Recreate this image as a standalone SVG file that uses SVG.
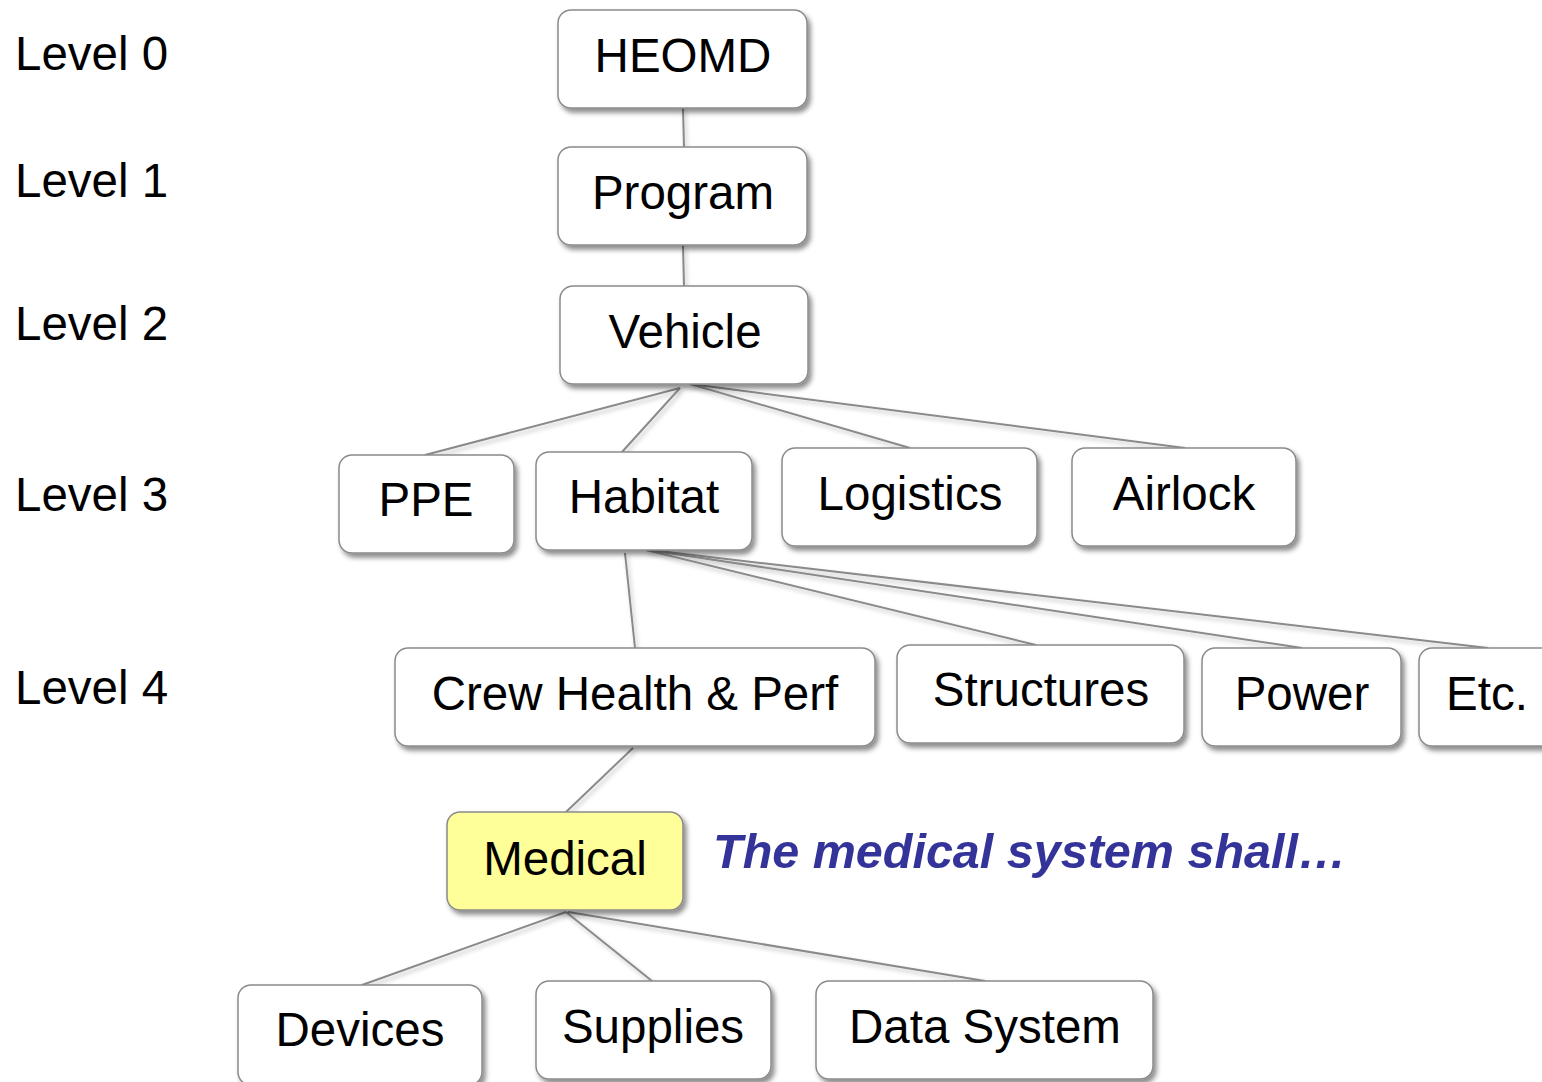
<svg xmlns="http://www.w3.org/2000/svg" width="1542" height="1082" viewBox="0 0 1542 1082">
<defs>
<filter id="sh" x="-10%" y="-20%" width="130%" height="150%">
<feDropShadow dx="3" dy="4" stdDeviation="2.5" flood-color="#000" flood-opacity="0.45"/>
</filter>
<filter id="lsh" x="-10%" y="-20%" width="130%" height="150%">
<feDropShadow dx="2" dy="3" stdDeviation="2" flood-color="#000" flood-opacity="0.25"/>
</filter>
</defs>
<style>
.box{fill:#fff;stroke:#8a8a8a;stroke-width:1.5;filter:url(#sh)}
.hl{fill:#ffff99}
.t{font-family:"Liberation Sans",Arial,sans-serif;font-size:47.5px;fill:#000;text-anchor:middle}
.lv{font-family:"Liberation Sans",Arial,sans-serif;font-size:47.5px;fill:#000}
.note{font-family:"Liberation Sans",Arial,sans-serif;font-size:48.5px;font-weight:bold;font-style:italic;fill:#333399}
.c{stroke:#8a8a8a;stroke-width:2;fill:none}
</style>
<rect width="1542" height="1082" fill="#fff"/>
<g id="levels">
<text class="lv" x="15" y="70">Level 0</text>
<text class="lv" x="15" y="197">Level 1</text>
<text class="lv" x="15" y="340">Level 2</text>
<text class="lv" x="15" y="511">Level 3</text>
<text class="lv" x="15" y="704">Level 4</text>
</g>
<g id="connectors" filter="url(#lsh)">
<line class="c" x1="683" y1="108" x2="684" y2="147"/>
<line class="c" x1="683" y1="245" x2="684" y2="286"/>
<line class="c" x1="680" y1="388" x2="425" y2="455"/>
<line class="c" x1="680" y1="388" x2="622" y2="452"/>
<line class="c" x1="690" y1="384" x2="910" y2="448"/>
<line class="c" x1="690" y1="384" x2="1185" y2="448"/>
<line class="c" x1="625" y1="553" x2="635" y2="648"/>
<line class="c" x1="646" y1="550" x2="1036" y2="645"/>
<line class="c" x1="648" y1="550" x2="1302" y2="648"/>
<line class="c" x1="650" y1="550" x2="1488" y2="648"/>
<line class="c" x1="633" y1="748" x2="566" y2="812"/>
<line class="c" x1="566" y1="912" x2="362" y2="985"/>
<line class="c" x1="566" y1="912" x2="652" y2="981"/>
<line class="c" x1="568" y1="912" x2="985" y2="981"/>
</g>
<g id="n-heomd"><rect class="box" x="558" y="10" width="249" height="98" rx="13"/><text class="t" x="683" y="72">HEOMD</text></g>
<g id="n-program"><rect class="box" x="558" y="147" width="249" height="98" rx="13"/><text class="t" x="683" y="209">Program</text></g>
<g id="n-vehicle"><rect class="box" x="560" y="286" width="248" height="98" rx="13"/><text class="t" x="685" y="348">Vehicle</text></g>
<g id="n-ppe"><rect class="box" x="339" y="455" width="175" height="98" rx="13"/><text class="t" x="426" y="516">PPE</text></g>
<g id="n-habitat"><rect class="box" x="536" y="452" width="216" height="98" rx="13"/><text class="t" x="644" y="513">Habitat</text></g>
<g id="n-logistics"><rect class="box" x="782" y="448" width="255" height="98" rx="13"/><text class="t" x="910" y="510">Logistics</text></g>
<g id="n-airlock"><rect class="box" x="1072" y="448" width="224" height="98" rx="13"/><text class="t" x="1184" y="510">Airlock</text></g>
<g id="n-crew"><rect class="box" x="395" y="648" width="480" height="98" rx="13"/><text class="t" x="635" y="710">Crew Health &amp; Perf</text></g>
<g id="n-structures"><rect class="box" x="897" y="645" width="287" height="98" rx="13"/><text class="t" x="1041" y="706">Structures</text></g>
<g id="n-power"><rect class="box" x="1202" y="648" width="199" height="98" rx="13"/><text class="t" x="1302" y="710">Power</text></g>
<g id="n-etc"><rect class="box" x="1419" y="648" width="140" height="98" rx="13"/><text class="t" x="1487" y="710">Etc.</text></g>
<g id="n-medical"><rect class="box hl" x="447" y="812" width="236" height="98" rx="13"/><text class="t" x="565" y="875">Medical</text></g>
<text class="note" x="713" y="868">The medical system shall…</text>
<g id="n-devices"><rect class="box" x="238" y="985" width="244" height="100" rx="13"/><text class="t" x="360" y="1046">Devices</text></g>
<g id="n-supplies"><rect class="box" x="536" y="981" width="235" height="98" rx="13"/><text class="t" x="653" y="1043">Supplies</text></g>
<g id="n-datasystem"><rect class="box" x="816" y="981" width="337" height="98" rx="13"/><text class="t" x="985" y="1043">Data System</text></g>
</svg>
